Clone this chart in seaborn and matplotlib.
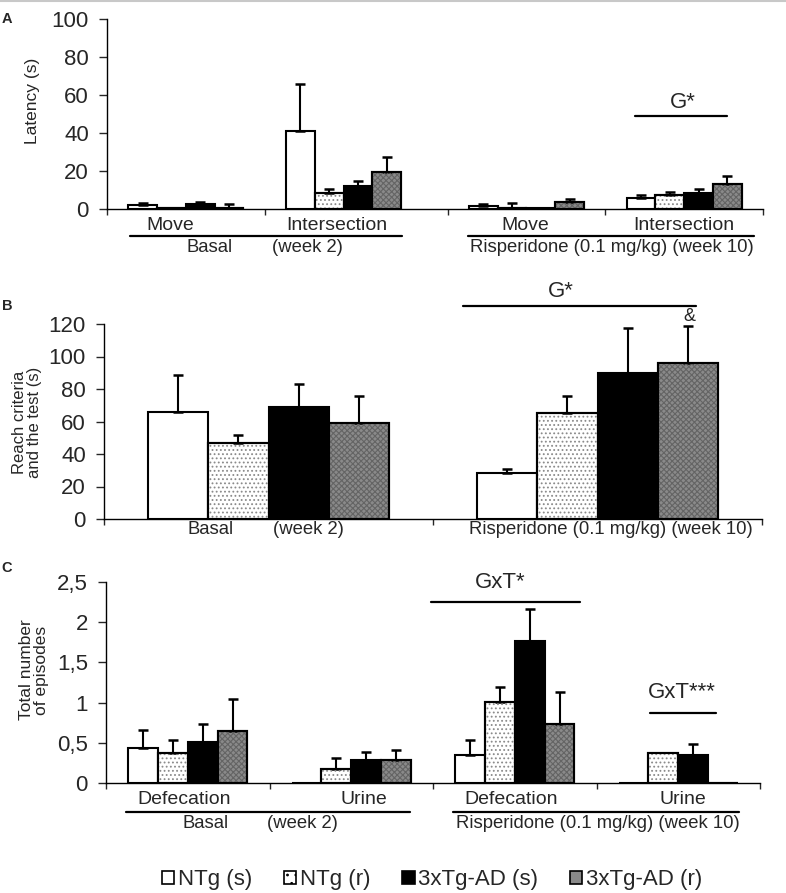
import numpy as np
import pandas as pd
import matplotlib
matplotlib.use("Agg")
import matplotlib.pyplot as plt
import matplotlib.transforms as mtransforms
from matplotlib.patches import Rectangle, Patch
from matplotlib.lines import Line2D
from matplotlib.ticker import FuncFormatter
import seaborn as sns

sns.set_style("ticks")
plt.rcParams["font.family"] = ["Liberation Sans", "DejaVu Sans"]
plt.rcParams["hatch.linewidth"] = 0.8

# -------------------------------
# data (rows follow genotypes)
# -------------------------------
genotypes = ["NTg (s)", "NTg (r)", "3xTg-AD (s)", "3xTg-AD (r)"]

# A: latency (s) -> Basal Move, Basal Intersection, Risp Move, Risp Intersection
a_mean = [[2.3, 41.0, 1.8, 6.0],
          [0.5, 8.6, 0.4, 7.2],
          [2.6, 12.1, 0.6, 8.6],
          [0.5, 19.6, 3.9, 13.0]]
a_sem = [[0.9, 25.0, 1.0, 1.3],
         [0.0, 2.1, 2.9, 1.5],
         [1.3, 2.6, 0.0, 2.1],
         [2.1, 7.8, 1.4, 4.4]]

# B: reach criteria and the test (s) -> Basal, Risperidone
b_mean = [[65.8, 28.1],
          [46.7, 65.0],
          [68.7, 89.8],
          [58.8, 95.8]]
b_sem = [[22.8, 2.5],
         [5.0, 11.0],
         [14.3, 27.8],
         [16.8, 22.7]]

# C: total number of episodes -> Basal Def, Basal Urine, Risp Def, Risp Urine
c_mean = [[0.44, 0.0, 0.35, 0.0],
          [0.37, 0.18, 1.01, 0.37],
          [0.51, 0.28, 1.76, 0.35],
          [0.65, 0.28, 0.73, 0.0]]
c_sem = [[0.22, 0.0, 0.18, 0.0],
         [0.16, 0.13, 0.19, 0.0],
         [0.23, 0.11, 0.40, 0.14],
         [0.39, 0.13, 0.40, 0.0]]

# group positions on the x axis (A has a wider gap between basal and risperidone)
a_pos = [0, 1, 2.16, 3.16]
b_pos = [0, 1]
c_pos = [0, 1, 2, 3]

palette = {"NTg (s)": "white", "NTg (r)": "white",
           "3xTg-AD (s)": "black", "3xTg-AD (r)": "#8a8a8a"}


def long_df(pos, means, sems):
    rows = []
    for g, m_row, s_row in zip(genotypes, means, sems):
        for p, m, s in zip(pos, m_row, s_row):
            rows.append({"pos": p, "geno": g, "val": m, "sem": s})
    return pd.DataFrame(rows)


def draw_bars(ax, pos, means, sems):
    df = long_df(pos, means, sems)
    sns.barplot(data=df, x="pos", y="val", hue="geno", hue_order=genotypes,
                palette=palette, native_scale=True, width=0.73, errorbar=None,
                edgecolor="black", linewidth=1.5, saturation=1, legend=False, ax=ax)
    bar_conts = list(ax.containers)
    for i, cont in enumerate(bar_conts):
        for bar in list(cont.patches):
            cx = bar.get_x() + bar.get_width() / 2
            j = int(np.argmin(np.abs(np.array(pos) - cx)))
            h = bar.get_height()
            s = sems[i][j]
            if i == 1:
                ax.add_patch(Rectangle(bar.get_xy(), bar.get_width(), h, fill=False,
                                       hatch="....", edgecolor="#8a8a8a", lw=0, zorder=3))
            if i == 3:
                ax.add_patch(Rectangle(bar.get_xy(), bar.get_width(), h, fill=False,
                                       hatch="xxxxxx", edgecolor="#646464", lw=0, zorder=3))
            if i in (1, 3):
                ax.add_patch(Rectangle(bar.get_xy(), bar.get_width(), h, fill=False,
                                       edgecolor="black", lw=1.5, zorder=3.5))
            if s > 0:
                ax.errorbar(cx, h, yerr=[[0], [s]], fmt="none", ecolor="black",
                            elinewidth=1.5, capsize=3.5, capthick=1.8, zorder=2)


def style_axes(ax, xlim, bounds, ylim, yticks, comma=False):
    ax.set_xlim(xlim)
    ax.set_ylim(ylim)
    ax.set_yticks(yticks)
    ax.set_xticks(bounds)
    ax.set_xlabel("")
    ax.set_ylabel("")
    ax.tick_params(axis="x", direction="out", length=4, width=1, labelbottom=False)
    ax.tick_params(axis="y", direction="out", length=6, width=1, labelsize=16, pad=7)
    if comma:
        ax.yaxis.set_major_formatter(FuncFormatter(lambda v, p: f"{v:g}".replace(".", ",")))
    else:
        ax.yaxis.set_major_formatter(FuncFormatter(lambda v, p: f"{v:g}"))
    sns.despine(ax=ax)
    for sp in ["left", "bottom"]:
        ax.spines[sp].set_color("black")
        ax.spines[sp].set_linewidth(1)


def below(ax, x, px, text, size):
    ax.annotate(text, xy=(x, 0), xycoords=("data", "axes fraction"),
                xytext=(0, -px * 0.72), textcoords="offset points",
                ha="center", va="center", fontsize=size)


def under_line(ax, x0, x1, px):
    tr = mtransforms.offset_copy(ax.get_xaxis_transform(), fig=fig, y=-px * 0.72, units="points")
    ax.add_line(Line2D([x0, x1], [0, 0], transform=tr, color="black", lw=1.6, clip_on=False))


fig = plt.figure(figsize=(7.86, 8.93), dpi=100)
W, H = 786, 893


def add_ax(l, r, top, bottom):
    return fig.add_axes([l / W, 1 - bottom / H, (r - l) / W, (bottom - top) / H])


# -------------------------------
# Panel A
# -------------------------------
axA = add_ax(107, 763, 19, 209)
draw_bars(axA, a_pos, a_mean, a_sem)
style_axes(axA, (-0.5, 3.66), [-0.5, 0.5, 1.66, 2.66, 3.66], (0, 100), [0, 20, 40, 60, 80, 100])
below(axA, -0.10, 16, "Move", 14)
below(axA, 0.96, 16, "Intersection", 14)
below(axA, 2.15, 16, "Move", 14)
below(axA, 3.16, 16, "Intersection", 14)
under_line(axA, -0.354, 1.37, 27)
under_line(axA, 1.79, 3.60, 27)
below(axA, 0.15, 39, "Basal", 13.3)
below(axA, 0.77, 39, "(week 2)", 13.3)
below(axA, 2.70, 39, "Risperidone (0.1 mg/kg) (week 10)", 13.3)
axA.plot([2.85, 3.43], [49, 49], color="black", lw=1.6, clip_on=False)
axA.text(3.15, 56, "G*", ha="center", va="center", fontsize=16)

# -------------------------------
# Panel B
# -------------------------------
axB = add_ax(104, 762, 324, 519)
draw_bars(axB, b_pos, b_mean, b_sem)
style_axes(axB, (-0.5, 1.5), [-0.5, 0.5, 1.5], (0, 120), [0, 20, 40, 60, 80, 100, 120])
below(axB, -0.175, 11, "Basal", 13.3)
below(axB, 0.12, 11, "(week 2)", 13.3)
below(axB, 1.04, 11, "Risperidone (0.1 mg/kg) (week 10)", 13.3)
axB.plot([0.59, 1.30], [131, 131], color="black", lw=1.6, clip_on=False)
axB.text(0.89, 140, "G*", ha="center", va="center", fontsize=16, clip_on=False)
axB.text(1.278, 124.5, "&", ha="center", va="center", fontsize=13, clip_on=False)

# -------------------------------
# Panel C
# -------------------------------
axC = add_ax(106, 760, 582, 783)
draw_bars(axC, c_pos, c_mean, c_sem)
style_axes(axC, (-0.5, 3.5), [-0.5, 0.5, 1.5, 2.5, 3.5], (0, 2.5),
           [0, 0.5, 1, 1.5, 2, 2.5], comma=True)
below(axC, -0.02, 16, "Defecation", 14)
below(axC, 1.08, 16, "Urine", 14)
below(axC, 1.98, 16, "Defecation", 14)
below(axC, 3.03, 16, "Urine", 14)
under_line(axC, -0.378, 1.36, 29)
under_line(axC, 1.62, 3.37, 29)
below(axC, 0.11, 40, "Basal", 13.3)
below(axC, 0.70, 40, "(week 2)", 13.3)
below(axC, 2.51, 40, "Risperidone (0.1 mg/kg) (week 10)", 13.3)
axC.plot([1.49, 2.40], [2.255, 2.255], color="black", lw=1.6, clip_on=False)
axC.text(1.91, 2.49, "GxT*", ha="center", va="center", fontsize=16, clip_on=False)
axC.plot([2.83, 3.23], [0.87, 0.87], color="black", lw=1.6, clip_on=False)
axC.text(3.02, 1.13, "GxT***", ha="center", va="center", fontsize=16)

# -------------------------------
# labels, legend, frame line
# -------------------------------
fig.text(33 / W, 1 - 101 / H, "Latency (s)", rotation=90, ha="center", va="center", fontsize=12.5)
fig.text(27 / W, 1 - 422 / H, "Reach criteria\nand the test (s)", rotation=90,
         ha="center", va="center", fontsize=12, linespacing=0.95)
fig.text(34 / W, 1 - 670 / H, "Total number\nof episodes", rotation=90,
         ha="center", va="center", fontsize=12.5, linespacing=0.95)
for lab, yy in [("A", 19), ("B", 306), ("C", 568)]:
    fig.text(7 / W, 1 - yy / H, lab, ha="center", va="center", fontsize=10.5, fontweight="bold")

fig.add_artist(Line2D([0, 1], [1 - 1 / H, 1 - 1 / H], color="#c8c8c8", lw=1.5))

handles = [Patch(facecolor="white", edgecolor="black", lw=1.2),
           Patch(facecolor="white", edgecolor="black", lw=1.2, hatch=".."),
           Patch(facecolor="black", edgecolor="black", lw=1.2),
           Patch(facecolor="#8a8a8a", edgecolor="black", lw=1.2)]
fig.legend(handles, genotypes, loc="center", bbox_to_anchor=(432 / W, 1 - 880 / H),
           ncol=4, frameon=False, fontsize=16, handlelength=0.55, handleheight=0.55,
           handletextpad=0.15, columnspacing=1.45, borderaxespad=0)

fig.savefig("out.png", dpi=100)
